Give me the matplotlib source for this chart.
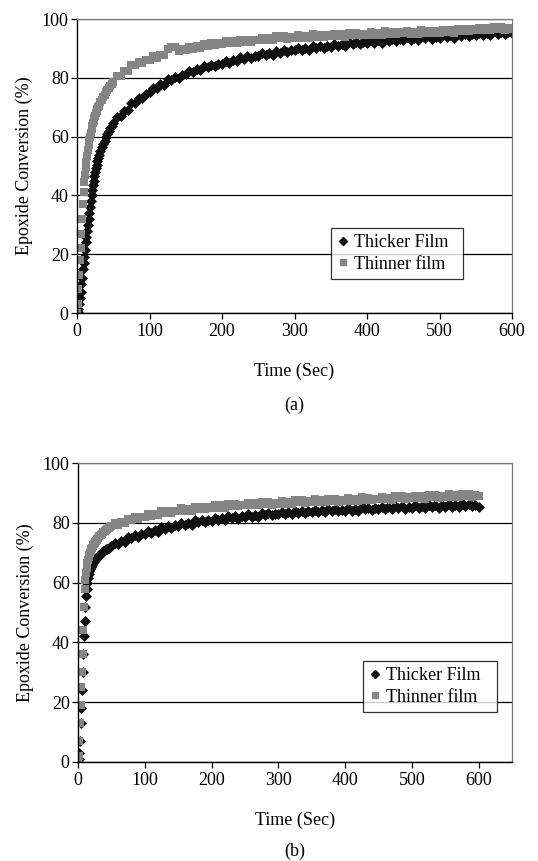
import matplotlib
matplotlib.use("Agg")
import matplotlib.pyplot as plt
from matplotlib.lines import Line2D

plt.rcParams['font.family'] = ['Liberation Serif', 'DejaVu Serif']

time_early = list(range(0, 31, 1)) + list(range(32, 51, 2))
time_late = list(range(55, 601, 5))
time_s = time_early + time_late

thicker_a = [0, 0.5, 1.5, 3, 5, 7, 10, 12, 15, 17, 19, 21.5, 24, 26, 28, 30, 32, 34, 36, 38, 40, 41.8, 43.5, 45, 46.5, 48, 49.2, 50.5, 51.7, 52.8, 53.8,
             55, 56.3, 57.5, 58.6, 59.7, 60.8, 61.8, 62.8, 63.7, 64.5,
             66.5, 66.9, 68.7, 69.0, 71.3, 71.5, 73.1, 73.1, 74.6, 75.1,
             76.7, 76.6, 77.9, 77.7, 79.5, 79.3, 80.4, 80.0, 81.1, 81.2,
             82.4, 81.9, 82.9, 82.5, 84.1, 83.6, 84.5, 83.9, 84.8, 84.7,
             85.8, 85.2, 86.1, 85.6, 87.0, 86.5, 87.3, 86.7, 87.5, 87.3,
             88.3, 87.6, 88.4, 87.8, 89.2, 88.6, 89.4, 88.7, 89.5, 89.3,
             90.3, 89.5, 90.2, 89.6, 90.9, 90.2, 90.9, 90.2, 90.9, 90.6,
             91.6, 90.8, 91.5, 90.9, 92.2, 91.5, 92.2, 91.5, 92.2, 91.9,
             92.8, 92.0, 92.7, 92.0, 93.3, 92.6, 93.3, 92.5, 93.2, 92.9,
             93.8, 93.0, 93.7, 92.9, 94.2, 93.5, 94.2, 93.3, 94.0, 93.7,
             94.6, 93.8, 94.4, 93.7, 95.0, 94.3, 95.0, 94.1, 94.8, 94.5,
             95.4, 94.5, 95.2, 94.5, 95.8, 95.0, 95.7, 94.9, 95.5, 95.2]

thinner_a = [0, 3, 8, 13, 18, 22, 27, 32, 37, 41, 44.5, 47, 49.5, 51.5, 53.5, 55.5, 57.2, 58.7, 60, 61.3, 62.5, 63.5, 64.5, 65.4, 66.3, 67.1, 67.9, 68.6, 69.3, 69.9, 70.5,
             71.6, 72.6, 73.5, 74.3, 75.1, 75.8, 76.5, 77.2, 77.9, 78.6,
             80.5, 80.6, 82.2, 82.4, 84.4, 84.3, 85.5, 85.1, 86.1, 86.1,
             87.3, 86.8, 87.8, 87.6, 89.8, 90.4, 90.6, 89.1, 89.7, 89.6,
             90.6, 89.9, 90.7, 90.1, 91.5, 90.9, 91.7, 91.0, 91.8, 91.6,
             92.5, 91.7, 92.4, 91.7, 93.0, 92.3, 93.0, 92.2, 92.9, 92.7,
             93.6, 92.8, 93.5, 92.8, 94.1, 93.4, 94.1, 93.3, 94.0, 93.7,
             94.5, 93.6, 94.3, 93.5, 94.8, 94.0, 94.7, 93.8, 94.5, 94.1,
             95.0, 94.1, 94.8, 94.0, 95.3, 94.6, 95.2, 94.4, 95.0, 94.7,
             95.5, 94.6, 95.3, 94.5, 95.8, 95.0, 95.7, 94.8, 95.5, 95.1,
             95.9, 95.0, 95.6, 94.9, 96.1, 95.4, 96.0, 95.1, 95.8, 95.4,
             96.3, 95.5, 96.2, 95.4, 96.7, 96.0, 96.7, 95.8, 96.5, 96.2,
             97.0, 96.2, 96.8, 96.1, 97.3, 96.6, 97.2, 96.4, 97.1, 96.7]

thicker_b = [0, 1, 3, 7, 13, 18, 24, 30, 36, 42, 47, 52, 55.5, 58, 60, 61.7, 62.8, 63.8, 64.5, 65.1, 65.6, 66, 66.4, 66.8, 67.1, 67.4, 67.7, 68, 68.3, 68.5, 68.8,
             69.3, 69.7, 70.1, 70.5, 70.8, 71.1, 71.4, 71.7, 72.0, 72.2,
             73.2, 72.8, 73.9, 73.6, 75.2, 74.8, 75.8, 75.3, 76.2, 76.1,
             77.2, 76.6, 77.5, 77.0, 78.5, 78.0, 78.8, 78.2, 79.1, 78.9,
             79.9, 79.2, 80.0, 79.4, 80.8, 80.2, 80.9, 80.2, 81.0, 80.7,
             81.6, 80.8, 81.6, 80.9, 82.2, 81.5, 82.2, 81.4, 82.2, 81.9,
             82.8, 82.0, 82.7, 82.0, 83.3, 82.6, 83.3, 82.5, 83.1, 82.8,
             83.7, 82.8, 83.5, 82.8, 84.1, 83.3, 84.0, 83.2, 83.8, 83.5,
             84.4, 83.5, 84.2, 83.5, 84.7, 84.0, 84.6, 83.8, 84.4, 84.1,
             84.9, 84.1, 84.7, 84.0, 85.2, 84.5, 85.1, 84.3, 84.9, 84.6,
             85.4, 84.6, 85.2, 84.5, 85.7, 85.0, 85.6, 84.7, 85.4, 85.0,
             85.9, 85.0, 85.7, 84.9, 86.1, 85.4, 86.0, 85.1, 85.8, 85.4,
             86.3, 85.4, 86.0, 85.3, 86.5, 85.7, 86.4, 85.5, 86.1, 85.2]

thinner_b = [0, 2, 7, 13, 19, 25, 30, 36, 44, 52, 58, 61, 63.3, 65, 66.4, 67.5, 68.4, 69.2, 69.9, 70.5, 71.1, 71.6, 72.1, 72.5, 72.9, 73.3, 73.7, 74.0, 74.3, 74.6, 74.9,
             75.5, 76.0, 76.4, 76.8, 77.2, 77.6, 77.9, 78.2, 78.5, 78.8,
             79.8, 79.3, 80.3, 79.8, 81.4, 80.9, 81.8, 81.2, 82.1, 82.0,
             83.0, 82.3, 83.1, 82.5, 83.9, 83.3, 84.1, 83.3, 84.1, 83.9,
             84.8, 84.0, 84.7, 84.0, 85.4, 84.7, 85.4, 84.6, 85.3, 85.0,
             85.9, 85.1, 85.8, 85.0, 86.3, 85.6, 86.3, 85.5, 86.1, 85.8,
             86.7, 85.8, 86.5, 85.8, 87.0, 86.3, 86.9, 86.1, 86.7, 86.4,
             87.3, 86.4, 87.1, 86.3, 87.6, 86.8, 87.5, 86.6, 87.3, 86.9,
             87.8, 86.9, 87.6, 86.8, 88.1, 87.3, 87.9, 87.1, 87.7, 87.3,
             88.2, 87.3, 88.0, 87.2, 88.5, 87.7, 88.3, 87.5, 88.1, 87.8,
             88.6, 87.8, 88.4, 87.7, 88.9, 88.2, 88.8, 88.0, 88.6, 88.2,
             89.1, 88.2, 88.9, 88.1, 89.4, 88.6, 89.2, 88.4, 89.0, 88.6,
             89.5, 88.6, 89.3, 88.5, 89.7, 89.0, 89.6, 88.7, 89.4, 89.0]

x_ticks = [0, 100, 200, 300, 400, 500, 600]
y_ticks = [0, 20, 40, 60, 80, 100]
series_labels = ["Thicker Film", "Thinner film"]
x_label = "Time (Sec)"
y_label = "Epoxide Conversion (%)"
panel_labels = ["(a)", "(b)"]

W, H = 538, 861
fig = plt.figure(figsize=(W / 100, H / 100), dpi=100)

BLACK = "#111111"
GRAY = "#858585"


def make_panel(rect, thick, thin, xmax, panel, legend_rect, xlabel_y, panel_y):
    ax = fig.add_axes(rect)
    ax.plot(time_s, thick, linestyle="none", marker="D", markersize=5.6,
            color=BLACK, markeredgewidth=0.5)
    ax.plot(time_s, thin, linestyle="none", marker="s", markersize=5.4,
            color=GRAY, markeredgewidth=0.0)
    ax.set_xlim(0, xmax)
    ax.set_ylim(0, 100)
    ax.set_xticks(x_ticks)
    ax.set_yticks(y_ticks)
    ax.yaxis.grid(True, color="#000000", linewidth=0.9)
    ax.set_axisbelow(True)
    for side in ["top", "right"]:
        ax.spines[side].set_color("#7a7a7a")
        ax.spines[side].set_linewidth(0.9)
    for side in ["left", "bottom"]:
        ax.spines[side].set_color("#000000")
        ax.spines[side].set_linewidth(1.0)
    ax.tick_params(axis="both", direction="out", length=4, width=0.9,
                   labelsize=13, pad=3, colors="#000000")
    ax.tick_params(axis="y", pad=2)
    ax.set_ylabel(y_label, fontsize=13, labelpad=6)
    cx = rect[0] + rect[2] / 2
    fig.text(cx, 1 - xlabel_y / H, x_label, ha="center", va="center", fontsize=13)
    fig.text(cx, 1 - panel_y / H, panel, ha="center", va="center", fontsize=13)
    handles = [Line2D([], [], linestyle="none", marker="D", markersize=4, color=BLACK),
               Line2D([], [], linestyle="none", marker="s", markersize=4, color=GRAY)]
    leg = ax.legend(handles, series_labels, loc="lower left",
                    bbox_to_anchor=legend_rect, bbox_transform=fig.transFigure,
                    mode="expand", frameon=True, fancybox=False, fontsize=13,
                    handlelength=0.6, handletextpad=0.3, borderpad=0.35,
                    labelspacing=0.25, borderaxespad=0)
    leg.get_frame().set_edgecolor("#000000")
    leg.get_frame().set_linewidth(0.9)
    return ax


def frac_rect(x0, y0, x1, y1):
    return [x0 / W, 1 - y1 / H, (x1 - x0) / W, (y1 - y0) / H]


make_panel(frac_rect(77, 19, 512, 313), thicker_a, thinner_a, 600, panel_labels[0],
           frac_rect(331, 222, 463, 279), 371, 405)
make_panel(frac_rect(78, 463, 512, 762), thicker_b, thinner_b, 650, panel_labels[1],
           frac_rect(363, 653, 497, 712), 820, 851)

fig.savefig("out.png", dpi=100, facecolor="white")
